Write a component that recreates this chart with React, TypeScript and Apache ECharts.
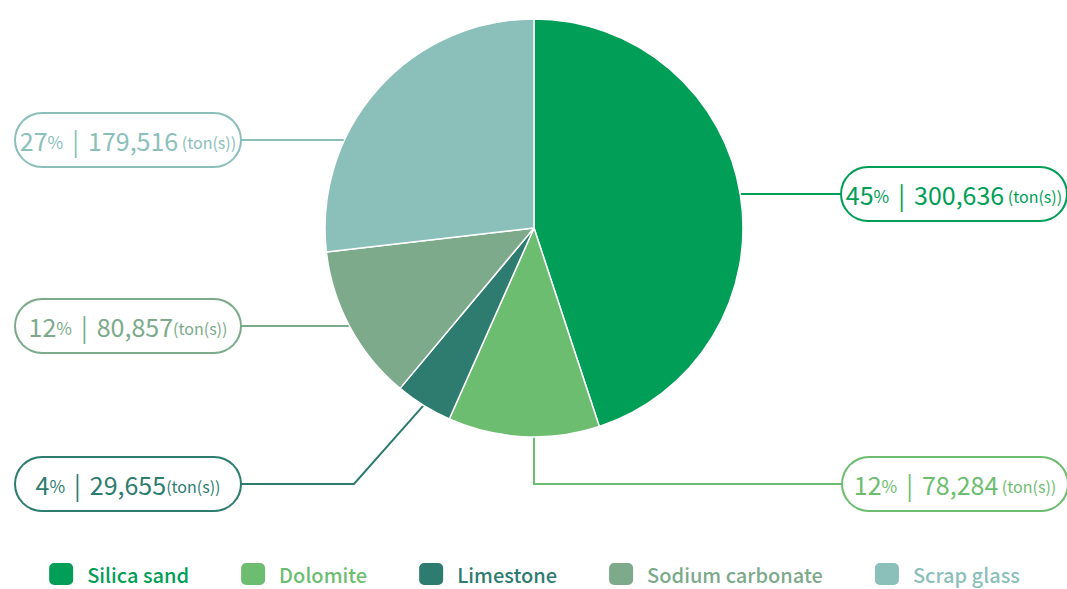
import { useEffect, useRef } from "react";
import * as echarts from "echarts";

// Raw materials input (tons)
const materials = ["Silica sand", "Dolomite", "Limestone", "Sodium carbonate", "Scrap glass"];
const tons = [300636, 78284, 29655, 80857, 179516];
const percents = [45, 12, 4, 12, 27];
const unitGap = [" ", " ", "", "", " "];
const colors = ["#009e57", "#6dbd70", "#2e7c6f", "#7caa8b", "#8bc0ba"];

const FONT = '"Noto Sans CJK JP", "Noto Sans", sans-serif';

// pie geometry (px)
const CX = 534;
const CY = 228;
const R = 209;

// callout placement: which side the box sits on, its anchor x and the row y
const calloutAlign = ["left", "left", "right", "right", "right"];
const calloutX = [842, 843, 240, 240, 240];
const calloutY = [194, 484, 484, 326, 140];
const limestoneBend = [354, 484];

const fmt = (n: number) => n.toLocaleString("en-US");

export default function App() {
  const ref = useRef<HTMLDivElement>(null);

  useEffect(() => {
    if (!ref.current) return;
    const chart = echarts.init(ref.current, null, { renderer: "svg" });
    const total = tons.reduce((a, b) => a + b, 0);

    const midPoint = (i: number) => {
      const before = tons.slice(0, i).reduce((a, b) => a + b, 0);
      const theta = ((before + tons[i] / 2) / total) * Math.PI * 2;
      return [CX + R * Math.sin(theta), CY - R * Math.cos(theta)];
    };
    const edgeAt = (y: number, dir: number) => [CX + dir * Math.sqrt(R * R - (y - CY) * (y - CY)), y];

    const token = (fontSize: number, padding: number[]) => ({
      fontSize,
      lineHeight: 28,
      fontFamily: FONT,
      align: "center",
      padding,
    });

    chart.setOption({
      animation: false,
      legend: {
        bottom: -3,
        left: "center",
        itemWidth: 26,
        itemHeight: 24,
        itemGap: 50,
        icon: "roundRect",
        textStyle: { fontFamily: FONT, fontSize: 20, fontWeight: 500, padding: [0, 0, 0, 8] },
        data: materials.map((name, i) => ({ name, textStyle: { color: colors[i] } })),
      },
      series: [
        {
          type: "pie",
          center: [CX, CY],
          radius: [0, R],
          startAngle: 90,
          clockwise: true,
          avoidLabelOverlap: false,
          itemStyle: { borderColor: "#ffffff", borderWidth: 1.5 },
          emphasis: { disabled: true },
          labelLine: { show: true, lineStyle: { width: 2 } },
          label: {
            show: true,
            fontFamily: FONT,
            backgroundColor: "#ffffff",
            borderWidth: 2,
            borderRadius: 27,
            width: 208,
            overflow: "none",
            padding: [12, 8, 12, 8],
            formatter: (p: any) => {
              const i = p.dataIndex;
              return `{p|${percents[i]}}{ps|%}{sep||}{v|${fmt(tons[i])}}{u|${unitGap[i]}(ton(s))}`;
            },
            rich: {
              p: token(25, [0, 0, 0, 0]),
              ps: token(17, [3, 0, 0, 0]),
              sep: token(25, [0, 9, 0, 9]),
              v: token(25, [0, 0, 0, 0]),
              u: token(16, [4, 0, 0, 0]),
            },
          },
          labelLayout: (params: any) => {
            const i = params.dataIndex;
            const x = calloutX[i];
            const y = calloutY[i];
            let pts: number[][];
            if (i === 1) {
              pts = [[CX, CY + R - 1], [CX, y], [x, y]];
            } else if (i === 2) {
              pts = [midPoint(i), limestoneBend, [x, y]];
            } else {
              const dir = calloutAlign[i] === "left" ? 1 : -1;
              pts = [edgeAt(y, dir), [x, y]];
            }
            return {
              x,
              y,
              align: calloutAlign[i],
              verticalAlign: "middle",
              labelLinePoints: pts,
            };
          },
          data: materials.map((name, i) => ({
            name,
            value: tons[i],
            itemStyle: { color: colors[i] },
            label: { color: colors[i], borderColor: colors[i] },
            labelLine: { lineStyle: { color: colors[i] } },
          })),
        },
      ],
    });

    return () => chart.dispose();
  }, []);

  return (
    <div
      ref={ref}
      style={{ position: "fixed", left: 0, top: 0, width: 1067, height: 589, background: "#ffffff" }}
    />
  );
}
